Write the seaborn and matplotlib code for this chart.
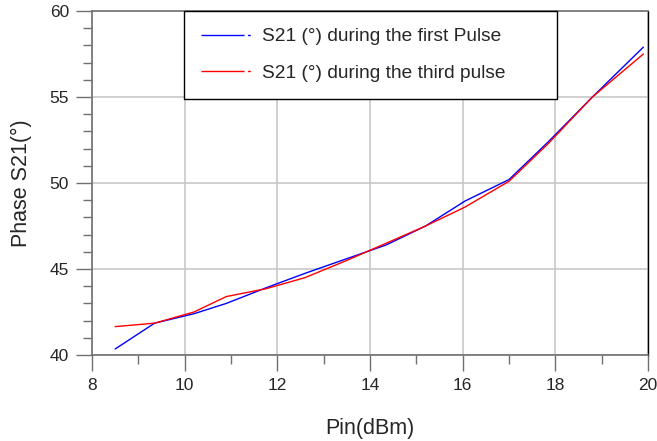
import numpy as np
import pandas as pd
import matplotlib
matplotlib.use("Agg")
import matplotlib.pyplot as plt
from matplotlib.lines import Line2D
from matplotlib.ticker import MultipleLocator
import seaborn as sns

pin = [8.5, 9.35, 10.2, 10.9, 11.75, 12.6, 13.5, 14.35, 15.2, 16.05, 17.0, 17.85, 18.8, 19.9]
first_pulse = [40.35, 41.85, 42.4, 43.0, 43.9, 44.75, 45.6, 46.4, 47.5, 48.95, 50.2, 52.4, 55.0, 57.9]
third_pulse = [41.65, 41.85, 42.5, 43.4, 43.85, 44.5, 45.5, 46.5, 47.5, 48.6, 50.1, 52.3, 55.0, 57.5]
labels = ["S21 (°) during the first Pulse", "S21 (°) during the third pulse"]
colors = ["#0000ff", "#ff0000"]

df = pd.concat([
    pd.DataFrame({"Pin": pin, "Phase": first_pulse, "series": labels[0]}),
    pd.DataFrame({"Pin": pin, "Phase": third_pulse, "series": labels[1]}),
])

sns.set_style("white")
plt.rcParams["font.family"] = ["Liberation Sans", "DejaVu Sans"]

fig = plt.figure(figsize=(6.57, 4.41), dpi=100)
ax = fig.add_axes([92/657, 1-355/441, 556/657, 344/441])

sns.lineplot(data=df, x="Pin", y="Phase", hue="series", palette=colors,
             linewidth=1.0, ax=ax, legend=False, sort=False)

ax.set_xlim(8, 20)
ax.set_ylim(40, 60)
ax.xaxis.set_major_locator(MultipleLocator(2))
ax.xaxis.set_minor_locator(MultipleLocator(1))
ax.yaxis.set_major_locator(MultipleLocator(5))
ax.yaxis.set_minor_locator(MultipleLocator(1))
ax.grid(True, which="major", color="#c8c8c8", linewidth=1.2)
ax.set_axisbelow(True)

ax.tick_params(which="major", direction="out", length=11.5, width=1.0, color="#707070",
               labelsize=12.5, pad=5, left=True, bottom=True)
ax.tick_params(which="minor", direction="out", length=6.5, width=1.0, color="#707070",
               left=True, bottom=True)

for side in ["left", "bottom", "top"]:
    ax.spines[side].set_color("#707070")
    ax.spines[side].set_linewidth(1.2)
ax.spines["right"].set_color("black")
ax.spines["right"].set_linewidth(1.0)

ax.set_xlabel("Pin(dBm)", fontsize=15.5, labelpad=18)
ax.set_ylabel("Phase S21(°)", fontsize=15.5, labelpad=13)

handles = [Line2D([], [], color=c, linewidth=1.0, dashes=(31, 2.5, 2, 100)) for c in colors]
leg = ax.legend(handles, labels, loc="upper left", bbox_to_anchor=(0.165, 1.0, 0.671, 0.0),
                mode="expand", borderaxespad=0, fancybox=False, framealpha=1,
                edgecolor="black", fontsize=13.8, handlelength=2.7, handletextpad=0.5,
                labelspacing=1.0, borderpad=0.88)
leg.get_frame().set_linewidth(1.0)

fig.savefig("out.png", dpi=100)
